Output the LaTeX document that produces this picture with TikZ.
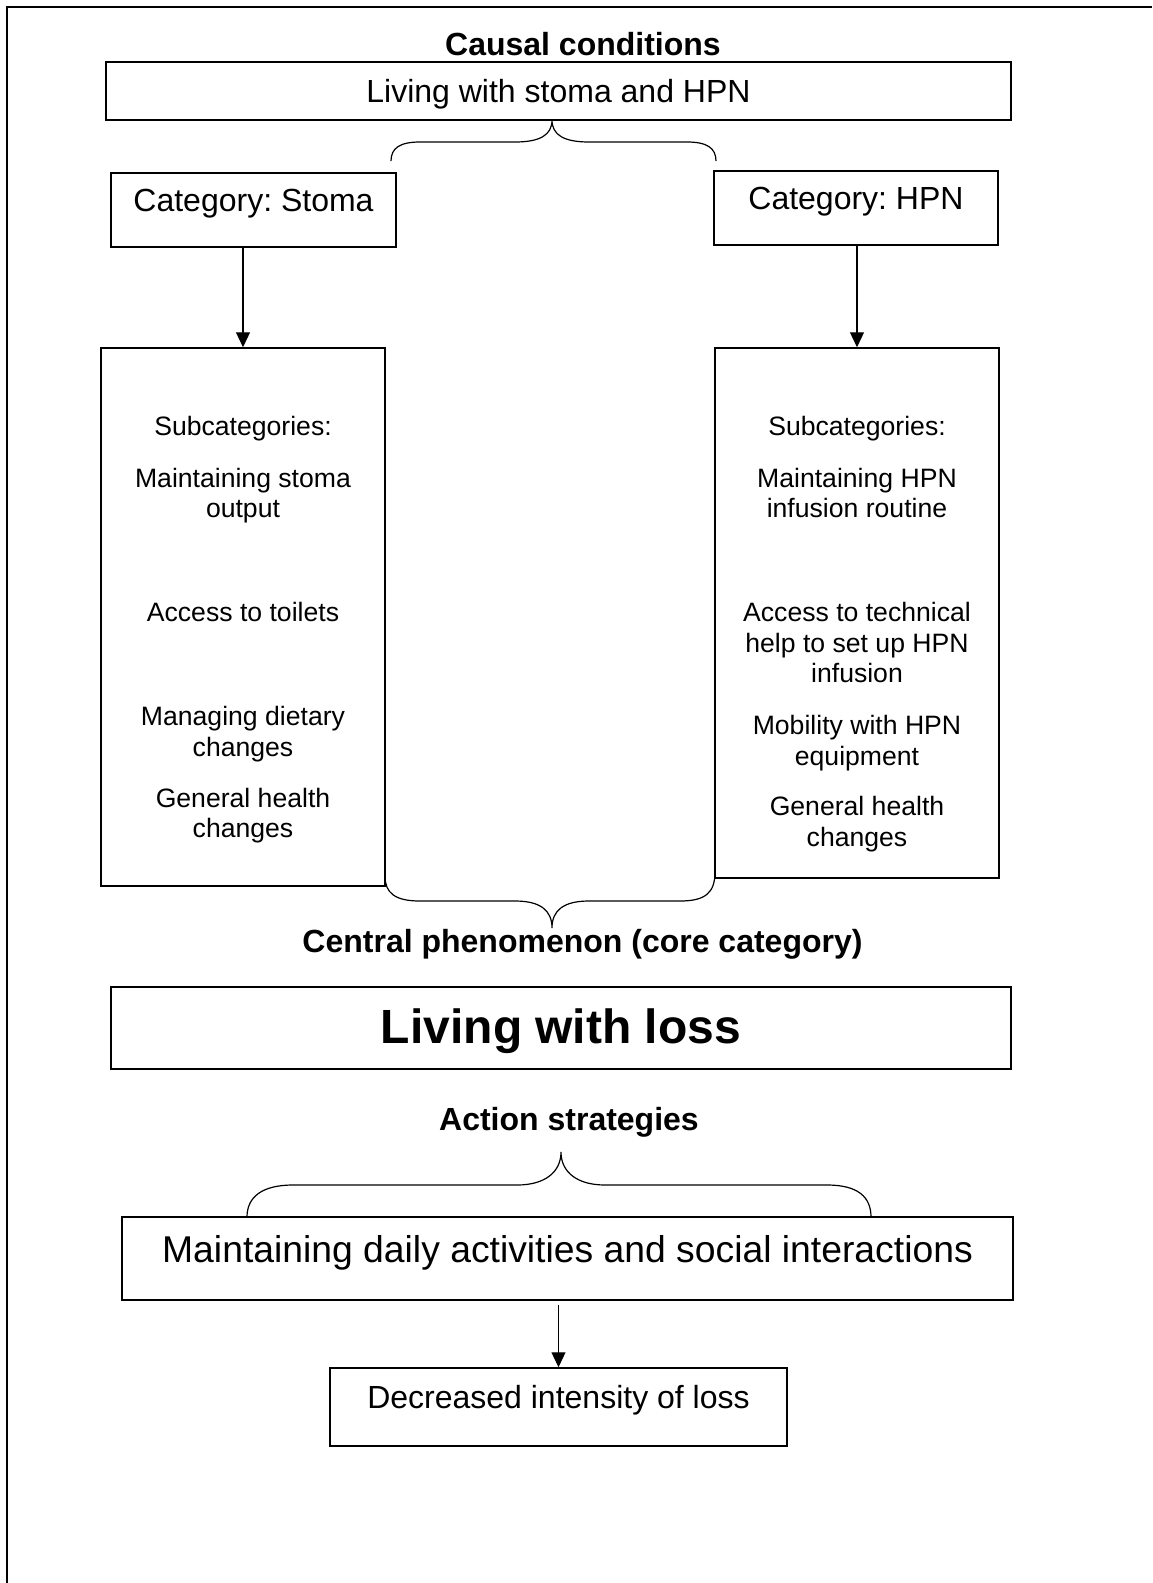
\documentclass[tikz,border=0pt]{standalone}
\usepackage{fontspec}
\setmainfont{Liberation Sans}
\usetikzlibrary{arrows.meta}
\frenchspacing

\newcommand{\bodysize}{\fontsize{32}{38}\selectfont}
\newcommand{\subsize}{\fontsize{26.6}{30.3}\selectfont}
\newcommand{\bigsize}{\fontsize{48}{56}\selectfont\bfseries}
\newcommand{\widesize}{\fontsize{37.3}{44}\selectfont}

\begin{document}
\begin{tikzpicture}[x=1pt, y=-1pt]
  \tikzstyle{box}=[draw, line width=1.5pt, inner sep=0pt, anchor=base]
  \tikzstyle{head}=[font=\bodysize\bfseries, inner sep=0pt, anchor=base]
  \tikzstyle{sub}=[font=\subsize, align=center, inner sep=0pt, anchor=north]
  \tikzstyle{link}=[line width=1.2pt, -{Triangle[length=15pt, width=14pt]}]
  \tikzstyle{brace}=[line width=1.2pt]

  \useasboundingbox (0,0) rectangle (1152,1583);
  \draw[line width=2.2pt] (7,1583) -- (7,7) -- (1152,7);

  \node[head] (causal) at (583, 55) {Causal conditions};
  \node[box, font=\bodysize, minimum width=905pt, text height=40.5pt, text depth=17.5pt]
    (living) at (558.5, 102.5) {Living with stoma and HPN};

  \node[box, font=\bodysize, minimum width=285pt, text height=38.5pt, text depth=35.5pt]
    (stoma) at (253.5, 211.5) {Category: Stoma};
  \node[box, font=\bodysize, minimum width=284pt, text height=38.5pt, text depth=35.5pt]
    (hpn) at (856, 209.5) {Category: HPN};

  \node[box, minimum width=284pt, minimum height=538pt] (substoma) at (243, 617) {};
  \node[box, minimum width=284pt, minimum height=530pt] (subhpn) at (857, 613) {};

  \node[sub] (stomalist) at (243, 415.6) {Subcategories:\\[22.2pt]
    Maintaining stoma\\output\\[73.7pt]
    Access to toilets\\[73.7pt]
    Managing dietary\\changes\\[21.2pt]
    General health\\changes};
  \node[sub] (hpnlist) at (857, 415.6) {Subcategories:\\[22.2pt]
    Maintaining HPN\\infusion routine\\[73.7pt]
    Access to technical\\help to set up HPN\\infusion\\[22.2pt]
    Mobility with HPN\\equipment\\[20.2pt]
    General health\\changes};

  \node[head] (central) at (582.5, 952.5) {Central phenomenon (core category)};
  \node[box, font=\bigsize, minimum width=900pt, text height=56pt, text depth=26pt]
    (loss) at (561, 1043) {Living with loss};

  \node[head] (action) at (569, 1130.5) {Action strategies};
  \node[box, font=\widesize, minimum width=891pt, text height=45.5pt, text depth=37.5pt]
    (maint) at (567.5, 1262.5) {Maintaining daily activities and social interactions};
  \node[box, font=\bodysize, minimum width=457pt, text height=40.5pt, text depth=37.5pt]
    (decr) at (558.5, 1408.5) {Decreased intensity of loss};

  % braces
  \draw[brace] (391,161) .. controls (391,148) and (400,142) .. (420,142) -- (515,142)
    .. controls (540,142) and (552,135) .. (552,120)
    .. controls (552,135) and (564,142) .. (589,142) -- (687,142)
    .. controls (707,142) and (716,148) .. (716,161);
  \draw[brace] (385,876) .. controls (385,893) and (395,901) .. (420,901) -- (515,901)
    .. controls (540,901) and (552,910) .. (552,928)
    .. controls (552,910) and (564,901) .. (589,901) -- (680,901)
    .. controls (705,901) and (715,893) .. (715,872);
  \draw[brace] (247,1217) .. controls (247,1197) and (262,1185) .. (293,1185) -- (517,1185)
    .. controls (545,1185) and (561,1172) .. (561,1152)
    .. controls (561,1172) and (577,1185) .. (605,1185) -- (827,1185)
    .. controls (858,1185) and (871,1197) .. (871,1217);

  % arrows
  \draw[link] (substoma.north |- stoma.south) -- (substoma.north);
  \draw[link] (subhpn.north |- hpn.south) -- (subhpn.north);
  \draw[link, shorten <=4pt] (decr.north |- maint.south) -- (decr.north);

\end{tikzpicture}
\end{document}
